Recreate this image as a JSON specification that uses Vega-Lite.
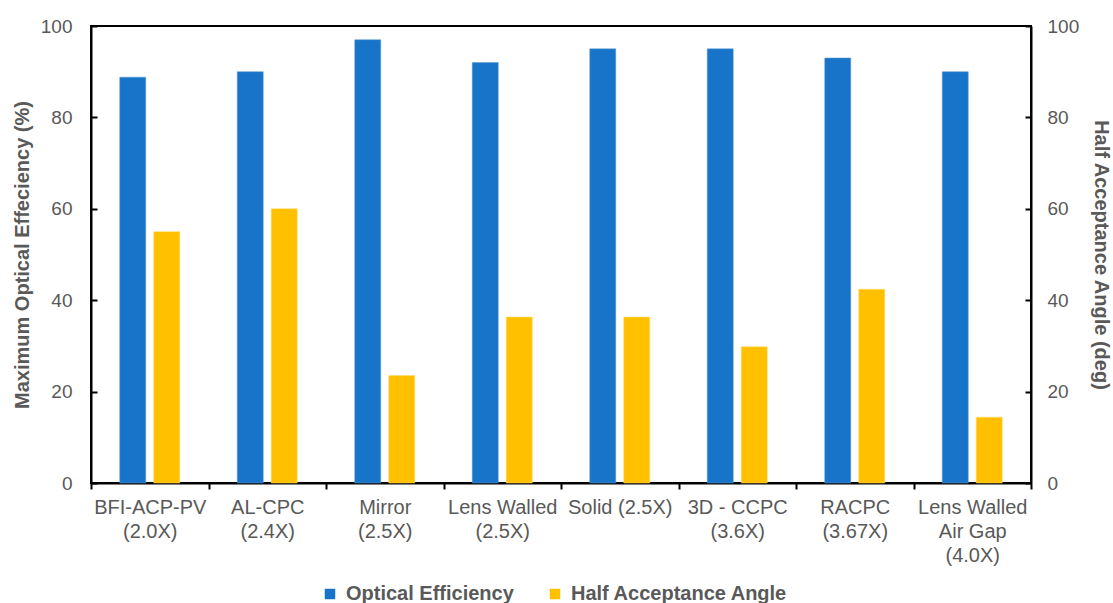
{
  "$schema": "https://vega.github.io/schema/vega-lite/v6.json",
  "width": 940,
  "height": 457,
  "autosize": {"type": "none"},
  "padding": {"left": 91, "top": 26, "right": 82, "bottom": 120},
  "background": "white",
  "config": {
    "view": {"stroke": "black", "strokeWidth": 2},
    "font": "Liberation Sans"
  },
  "data": {
    "values": [
      {"concentrator": "BFI-ACP-PV\n(2.0X)", "series": "Optical Efficiency", "value": 88.8},
      {"concentrator": "BFI-ACP-PV\n(2.0X)", "series": "Half Acceptance Angle", "value": 55},
      {"concentrator": "AL-CPC\n(2.4X)", "series": "Optical Efficiency", "value": 90},
      {"concentrator": "AL-CPC\n(2.4X)", "series": "Half Acceptance Angle", "value": 60},
      {"concentrator": "Mirror\n(2.5X)", "series": "Optical Efficiency", "value": 97},
      {"concentrator": "Mirror\n(2.5X)", "series": "Half Acceptance Angle", "value": 23.5},
      {"concentrator": "Lens Walled\n(2.5X)", "series": "Optical Efficiency", "value": 92},
      {"concentrator": "Lens Walled\n(2.5X)", "series": "Half Acceptance Angle", "value": 36.3},
      {"concentrator": "Solid (2.5X)", "series": "Optical Efficiency", "value": 95},
      {"concentrator": "Solid (2.5X)", "series": "Half Acceptance Angle", "value": 36.3},
      {"concentrator": "3D - CCPC\n(3.6X)", "series": "Optical Efficiency", "value": 95},
      {"concentrator": "3D - CCPC\n(3.6X)", "series": "Half Acceptance Angle", "value": 29.8},
      {"concentrator": "RACPC\n(3.67X)", "series": "Optical Efficiency", "value": 93},
      {"concentrator": "RACPC\n(3.67X)", "series": "Half Acceptance Angle", "value": 42.4},
      {"concentrator": "Lens Walled\nAir Gap\n(4.0X)", "series": "Optical Efficiency", "value": 90},
      {"concentrator": "Lens Walled\nAir Gap\n(4.0X)", "series": "Half Acceptance Angle", "value": 14.4}
    ]
  },
  "encoding": {
    "x": {
      "field": "concentrator",
      "type": "nominal",
      "sort": null,
      "scale": {"paddingInner": 0, "paddingOuter": 0},
      "axis": {
        "title": null,
        "labelAngle": 0,
        "labelExpr": "isValid(datum.value) ? split(datum.value, '\\n') : ''",
        "labelFontSize": 20,
        "labelColor": "#595959",
        "labelLineHeight": 24,
        "labelPadding": 8,
        "labelLimit": 0,
        "labelOverlap": false,
        "labelBound": false,
        "tickBand": "extent",
        "tickSize": 6,
        "tickColor": "black",
        "tickWidth": 2,
        "domainColor": "black",
        "domainWidth": 2
      }
    },
    "xOffset": {
      "field": "series",
      "type": "nominal",
      "scale": {
        "domain": ["Optical Efficiency", "Half Acceptance Angle"],
        "paddingInner": 0.235,
        "paddingOuter": 0.845
      }
    },
    "color": {
      "field": "series",
      "type": "nominal",
      "scale": {
        "domain": ["Optical Efficiency", "Half Acceptance Angle"],
        "range": ["#1874C8", "#FFC000"]
      },
      "legend": {
        "title": null,
        "orient": "none",
        "legendX": 229,
        "legendY": 558,
        "direction": "horizontal",
        "symbolType": "square",
        "symbolSize": 110,
        "symbolStrokeWidth": 0,
        "labelFontSize": 20,
        "labelFontWeight": "bold",
        "labelColor": "#595959",
        "labelLimit": 400,
        "labelOffset": 6,
        "columnPadding": 31
      }
    }
  },
  "layer": [
    {
      "transform": [{"filter": "datum.series == 'Optical Efficiency'"}],
      "mark": {"type": "bar", "stroke": "#5B9BD5", "strokeWidth": 0.5},
      "encoding": {
        "y": {
          "field": "value",
          "type": "quantitative",
          "scale": {"domain": [0, 100], "nice": false},
          "axis": {
            "orient": "left",
            "title": "Maximum Optical Effeciency  (%)",
            "titleFontSize": 20,
            "titleFontWeight": "bold",
            "titleColor": "#595959",
            "titlePadding": 8,
            "values": [0, 20, 40, 60, 80, 100],
            "labelFontSize": 19,
            "labelColor": "#595959",
            "labelPadding": 25,
            "tickSize": -6,
            "tickColor": "black",
            "tickWidth": 2,
            "domainColor": "black",
            "domainWidth": 2,
            "grid": false
          }
        }
      }
    },
    {
      "transform": [{"filter": "datum.series == 'Half Acceptance Angle'"}],
      "mark": {"type": "bar", "stroke": "#FFD966", "strokeWidth": 0.5},
      "encoding": {
        "y": {
          "field": "value",
          "type": "quantitative",
          "scale": {"domain": [0, 100], "nice": false},
          "axis": {
            "orient": "right",
            "title": "Half Acceptance Angle (deg)",
            "titleFontSize": 20,
            "titleFontWeight": "bold",
            "titleColor": "#595959",
            "titlePadding": 12,
            "values": [0, 20, 40, 60, 80, 100],
            "labelFontSize": 19,
            "labelColor": "#595959",
            "labelPadding": 22,
            "tickSize": -6,
            "tickColor": "black",
            "tickWidth": 2,
            "domainColor": "black",
            "domainWidth": 2,
            "grid": false
          }
        }
      }
    }
  ],
  "resolve": {"scale": {"y": "independent"}}
}
